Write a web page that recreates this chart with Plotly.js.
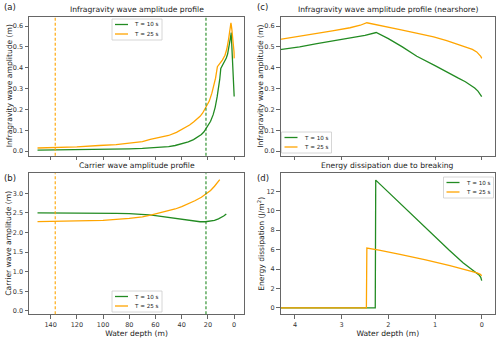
<!DOCTYPE html>
<html>
<head>
<meta charset="utf-8">
<script src="https://cdn.plot.ly/plotly-3.0.1.min.js"></script>
<style>
  html, body { margin: 0; padding: 0; background: #fff; }
  #fig { width: 500px; height: 338px; }
</style>
</head>
<body>
<div id="fig"></div>
<script>
// series labels
const names = ['T = 10 s', 'T = 25 s'];
const green = '#228B22';
const orange = '#FFA500';

// (a)/(c) infragravity amplitude, depth (m) -> amplitude (m)
const depthIG10 = [150, 130, 110, 100, 90, 80, 70, 60, 50, 45, 40, 35, 31, 28, 25, 23, 21.5, 20, 18, 16, 14.5, 13, 12, 11, 10.2, 9, 8, 7, 6, 5, 4.31, 3.9, 3.53, 3.2, 2.82, 2.5, 2.26, 2.0, 1.7, 1.39, 1.0, 0.68, 0.5, 0.35, 0.25, 0.15, 0.08, 0.03, 0];
const ig10 = [0.005, 0.006, 0.007, 0.008, 0.009, 0.011, 0.013, 0.017, 0.022, 0.027, 0.034, 0.044, 0.055, 0.066, 0.08, 0.093, 0.107, 0.12, 0.143, 0.175, 0.21, 0.26, 0.3, 0.345, 0.397, 0.41, 0.42, 0.433, 0.447, 0.466, 0.487, 0.5, 0.516, 0.528, 0.54, 0.555, 0.569, 0.54, 0.5, 0.455, 0.41, 0.37, 0.35, 0.333, 0.32, 0.303, 0.288, 0.273, 0.262];
const depthIG25 = [150, 130, 120, 103, 90, 80, 70, 64, 57, 50, 44, 38, 34, 31, 28, 26, 24, 21.5, 19, 17, 15.5, 14.2, 12.8, 11, 9, 7, 5.6, 4.31, 3.9, 3.53, 3.2, 2.82, 2.6, 2.46, 2.2, 1.75, 1.4, 1.03, 0.75, 0.46, 0.3, 0.2, 0.107, 0.05, 0.02, 0];
const ig25 = [0.015, 0.017, 0.02, 0.027, 0.031, 0.038, 0.046, 0.056, 0.064, 0.075, 0.09, 0.11, 0.125, 0.14, 0.155, 0.167, 0.183, 0.21, 0.24, 0.278, 0.31, 0.35, 0.405, 0.42, 0.437, 0.46, 0.49, 0.535, 0.55, 0.564, 0.577, 0.592, 0.604, 0.616, 0.605, 0.583, 0.566, 0.548, 0.53, 0.508, 0.496, 0.488, 0.476, 0.465, 0.455, 0.445];

// (b) carrier wave amplitude
const depthCW10 = [150, 130, 110, 100, 90, 80, 70, 65, 60, 55, 50, 45, 40, 35, 30, 26, 22, 18, 15, 12, 10, 8, 6];
const cw10 = [2.5, 2.5, 2.5, 2.5, 2.49, 2.48, 2.465, 2.45, 2.43, 2.405, 2.38, 2.355, 2.33, 2.305, 2.285, 2.275, 2.275, 2.29, 2.31, 2.35, 2.38, 2.42, 2.47];
const depthCW25 = [150, 120, 100, 80, 70, 63, 55, 50, 45, 40, 35, 30, 25, 21.5, 18, 15, 13, 11];
const cw25 = [2.28, 2.29, 2.31, 2.36, 2.4, 2.45, 2.51, 2.55, 2.6, 2.66, 2.73, 2.81, 2.9, 2.98, 3.07, 3.18, 3.27, 3.35];

// (d) energy dissipation
const depthD10 = [4.31, 2.28, 2.27, 2.0, 1.7, 1.4, 1.0, 0.7, 0.4, 0.2, 0.1, 0.05, 0.02, 0];
const d10 = [0, 0, 13.15, 11.9, 10.55, 9.2, 7.35, 5.95, 4.65, 3.9, 3.55, 3.35, 3.15, 2.8];
const depthD25 = [4.31, 2.47, 2.46, 2.2, 1.75, 1.2, 0.68, 0.3, 0.1, 0.03, 0];
const d25 = [0, 0, 6.15, 5.95, 5.5, 4.95, 4.35, 3.9, 3.6, 3.45, 3.3];

// vertical reference depths (breaking onset markers)
const refDepths = [21.5, 136.5];

const depthTicks = [140, 120, 100, 80, 60, 40, 20, 0];
const nearTicks = [4, 3, 2, 1, 0];
const cwTicks = [0, 0.5, 1, 1.5, 2, 2.5, 3];

const W = 500, H = 338;
const fx = v => v / W;
const fy = v => 1 - v / H;

function line(x, y, i, xa, ya) {
  return {
    x, y, type: 'scatter', mode: 'lines', showlegend: false,
    name: names[i], xaxis: xa, yaxis: ya,
    line: { color: i === 0 ? green : orange, width: 1.3 }
  };
}

const data = [
  line(depthIG10, ig10, 0, 'x', 'y'),
  line(depthIG25, ig25, 1, 'x', 'y'),
  line(depthCW10, cw10, 0, 'x2', 'y2'),
  line(depthCW25, cw25, 1, 'x2', 'y2'),
  line(depthIG10, ig10, 0, 'x3', 'y3'),
  line(depthIG25, ig25, 1, 'x3', 'y3'),
  line(depthD10, d10, 0, 'x4', 'y4'),
  line(depthD25, d25, 1, 'x4', 'y4')
];

const axBase = {
  showline: true, mirror: true, linecolor: '#666', linewidth: 1,
  ticks: 'outside', ticklen: 3.5, tickwidth: 1, tickcolor: '#666',
  showgrid: false, zeroline: false,
  tickfont: { family: 'DejaVu Sans', size: 6.5, color: '#333' }
};
const labFont = { family: 'DejaVu Sans', size: 7.6, color: '#222' };

const xL = [fx(29), fx(244)];
const xR = [fx(280.5), fx(495)];
const yT = [fy(155.7), fy(16.7)];
const yB = [fy(314.3), fy(173.3)];

function title(text, xd, yd) {
  return { text, xref: 'paper', yref: 'paper', x: (xd[0] + xd[1]) / 2, y: yd[1],
    xanchor: 'center', yanchor: 'bottom', yshift: 1, showarrow: false, font: labFont };
}
function ytitle(text, x, yd) {
  return { text, xref: 'paper', yref: 'paper', x: fx(x), y: (yd[0] + yd[1]) / 2,
    xanchor: 'center', yanchor: 'middle', textangle: -90, showarrow: false, font: labFont };
}
function tag(text, x, y) {
  return { text, xref: 'paper', yref: 'paper', x: fx(x), y: fy(y),
    xanchor: 'left', yanchor: 'middle', showarrow: false,
    font: { family: 'DejaVu Sans', size: 8.5, color: '#222' } };
}

const shapes = [];
const annotations = [];
refDepths.forEach((d, i) => {
  ['x', 'x2'].forEach((xa, k) => {
    shapes.push({
      type: 'line', xref: xa, yref: (k === 0 ? 'y' : 'y2') + ' domain',
      x0: d, x1: d, y0: 0, y1: 1,
      line: { color: i === 0 ? green : orange, width: 1.1, dash: '3px,2px' }
    });
  });
});

// small matplotlib-style legend boxes
function legendBox(left, top) {
  shapes.push({
    type: 'rect', xref: 'paper', yref: 'paper',
    x0: fx(left), x1: fx(left + 50), y0: fy(top + 21), y1: fy(top),
    fillcolor: 'rgba(255,255,255,0.85)', line: { color: '#ccc', width: 0.8 }
  });
  names.forEach((n, i) => {
    const yy = top + 5.5 + i * 9.5;
    shapes.push({
      type: 'line', xref: 'paper', yref: 'paper',
      x0: fx(left + 3), x1: fx(left + 16), y0: fy(yy), y1: fy(yy),
      line: { color: i === 0 ? green : orange, width: 1.3 }
    });
    annotations.push({
      text: n, xref: 'paper', yref: 'paper', x: fx(left + 20), y: fy(yy),
      xanchor: 'left', yanchor: 'middle', showarrow: false,
      font: { family: 'DejaVu Sans', size: 5.6, color: '#222' }
    });
  });
}
legendBox(112, 19);
legendBox(112, 291);
legendBox(281.5, 132);
legendBox(443.5, 177);

annotations.push(
  title('Infragravity wave amplitude profile', xL, yT),
  title('Carrier wave amplitude profile', xL, yB),
  title('Infragravity wave amplitude profile (nearshore)', xR, yT),
  title('Energy dissipation due to breaking', xR, yB),
  ytitle('Infragravity wave amplitude (m)', 9, yT),
  ytitle('Carrier wave amplitude (m)', 9, yB),
  ytitle('Infragravity wave amplitude (m)', 260.5, yT),
  ytitle('Energy dissipation (J/m<sup>2</sup>)', 261, yB),
  tag('(a)', 2, 7.5), tag('(b)', 2, 178), tag('(c)', 255, 7.5), tag('(d)', 255, 177.5)
);

const layout = {
  width: W, height: H,
  margin: { l: 0, r: 0, t: 0, b: 0 },
  paper_bgcolor: '#fff', plot_bgcolor: '#fff',
  font: { family: 'DejaVu Sans' },
  showlegend: false,
  xaxis: Object.assign({}, axBase, { domain: xL, anchor: 'y', range: [156.5, -7.5], tickvals: depthTicks, showticklabels: false }),
  yaxis: Object.assign({}, axBase, { domain: yT, anchor: 'x', range: [-0.022, 0.645], dtick: 0.1, tickformat: '.1f' }),
  xaxis2: Object.assign({}, axBase, { domain: xL, anchor: 'y2', range: [156.5, -7.5], tickvals: depthTicks,
    title: { text: 'Water depth (m)', font: labFont, standoff: 2 } }),
  yaxis2: Object.assign({}, axBase, { domain: yB, anchor: 'x2', range: [-0.085, 3.51], tickvals: cwTicks, tickformat: '.1f' }),
  xaxis3: Object.assign({}, axBase, { domain: xR, anchor: 'y3', range: [4.31, -0.285], tickvals: nearTicks, showticklabels: false }),
  yaxis3: Object.assign({}, axBase, { domain: yT, anchor: 'x3', range: [-0.022, 0.645], dtick: 0.1, tickformat: '.1f' }),
  xaxis4: Object.assign({}, axBase, { domain: xR, anchor: 'y4', range: [4.31, -0.285], tickvals: nearTicks,
    title: { text: 'Water depth (m)', font: labFont, standoff: 2 } }),
  yaxis4: Object.assign({}, axBase, { domain: yB, anchor: 'x4', range: [-0.66, 13.85], dtick: 2 }),
  shapes,
  annotations
};

Plotly.newPlot('fig', data, layout, { staticPlot: true, displayModeBar: false });
</script>
</body>
</html>
